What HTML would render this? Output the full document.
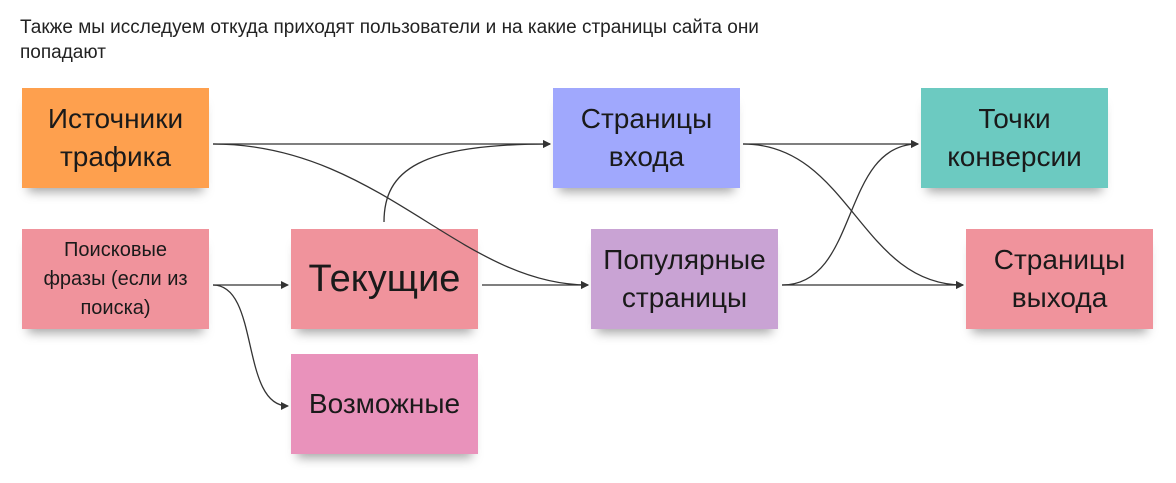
<!DOCTYPE html>
<html><head><meta charset="utf-8"><style>
body{margin:0;width:1176px;height:483px;background:#fff;position:relative;overflow:hidden;font-family:"Liberation Sans","DejaVu Sans",sans-serif;color:#1a1a1a}
.t{position:absolute;left:20px;top:15px;font-size:19px;line-height:25px;color:#222}
.b{position:absolute;width:187px;height:100px;display:flex;align-items:center;justify-content:center;text-align:center;font-size:28px;line-height:38px;box-shadow:0 10px 10px -6px rgba(0,0,0,0.35)}
svg{position:absolute;left:0;top:0}
</style></head><body>
<div class="t">Также мы исследуем откуда приходят пользователи и на какие страницы сайта они<br>попадают</div>
<div class="b" style="left:22px;top:88px;background:#fea04e">Источники<br>трафика</div>
<div class="b" style="left:553px;top:88px;background:#a0a8fd">Страницы<br>входа</div>
<div class="b" style="left:921px;top:88px;background:#6ccac1">Точки<br>конверсии</div>
<div class="b" style="left:22px;top:229px;background:#f0939c;font-size:20px;line-height:29px">Поисковые<br>фразы (если из<br>поиска)</div>
<div class="b" style="left:291px;top:229px;background:#f0939c;font-size:38px">Текущие</div>
<div class="b" style="left:591px;top:229px;background:#c9a3d4">Популярные<br>страницы</div>
<div class="b" style="left:966px;top:229px;background:#f0939c">Страницы<br>выхода</div>
<div class="b" style="left:291px;top:354px;background:#e992bb">Возможные</div>
<svg width="1176" height="483" fill="none" stroke="#333" stroke-width="1.3">
<defs><marker id="a" markerWidth="8" markerHeight="8" refX="7" refY="4" orient="auto" markerUnits="userSpaceOnUse"><path d="M0,0L8,4L0,8z" fill="#333" stroke="none"/></marker></defs>
<path d="M213,144H550" marker-end="url(#a)"/>
<path d="M213,144C380,144 460,285 588,285" marker-end="url(#a)"/>
<path d="M384,222C384,170 420,144 550,144" marker-end="url(#a)"/>
<path d="M213,285H288" marker-end="url(#a)"/>
<path d="M213,285C260,285 240,406 288,406" marker-end="url(#a)"/>
<path d="M482,285H588" marker-end="url(#a)"/>
<path d="M743,144H918" marker-end="url(#a)"/>
<path d="M743,144C850,144 860,285 963,285" marker-end="url(#a)"/>
<path d="M782,285H963" marker-end="url(#a)"/>
<path d="M782,285C860,285 840,144 918,144" marker-end="url(#a)"/>
</svg>
</body></html>
